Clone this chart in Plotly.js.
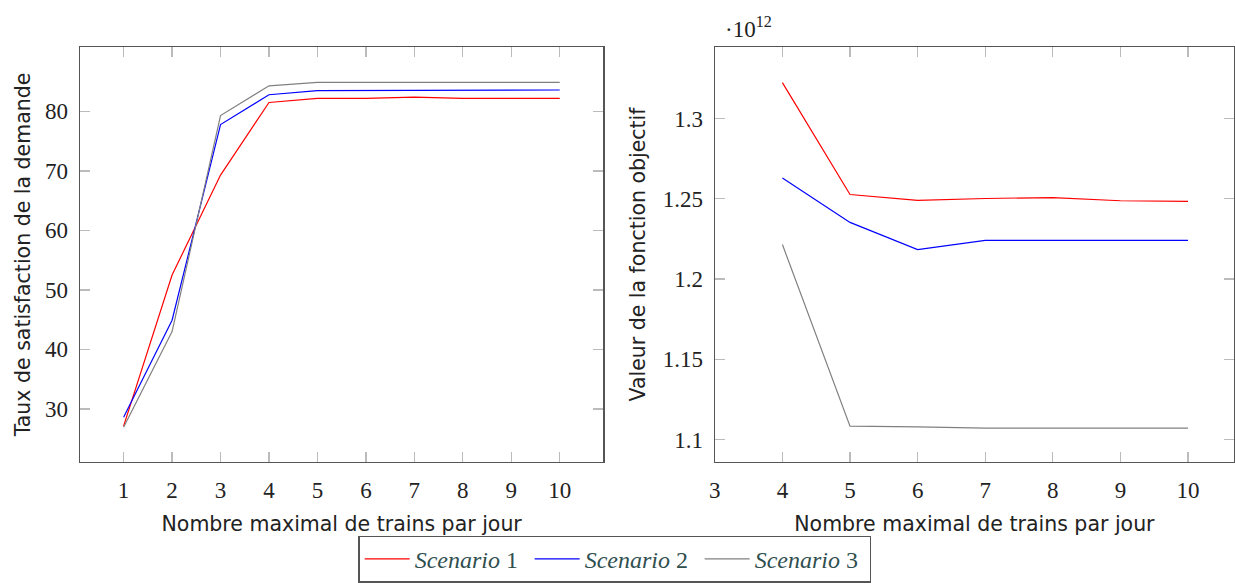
<!DOCTYPE html>
<html>
<head>
<meta charset="utf-8">
<script src="https://cdn.plot.ly/plotly-3.0.1.min.js"></script>
<style>html,body{margin:0;padding:0;background:#fff;}#chart{width:1235px;height:583px;}</style>
</head>
<body>
<div id="chart"></div>
<script>
// Left panel: demand satisfaction rate vs max trains per day
const trainsLeft = [1, 2, 3, 4, 5, 6, 7, 8, 9, 10];
const satisfaction1 = [27.1, 52.5, 69.3, 81.5, 82.2, 82.2, 82.4, 82.2, 82.2, 82.2];
const satisfaction2 = [28.6, 44.9, 77.8, 82.8, 83.5, 83.5, 83.6, 83.6, 83.6, 83.6];
const satisfaction3 = [26.9, 43.0, 79.3, 84.3, 84.9, 84.9, 84.9, 84.9, 84.9, 84.9];

// Right panel: objective function value (units of 10^12) vs max trains per day
const trainsRight = [4, 5, 6, 7, 8, 9, 10];
const objective1 = [1.3224, 1.2527, 1.2490, 1.2502, 1.2508, 1.2488, 1.2484];
const objective2 = [1.2629, 1.2353, 1.2184, 1.2241, 1.2241, 1.2241, 1.2241];
const objective3 = [1.2215, 1.1083, 1.1079, 1.1071, 1.1071, 1.1071, 1.1071];

const leftXTicks = [1, 2, 3, 4, 5, 6, 7, 8, 9, 10];
const leftYTicks = [30, 40, 50, 60, 70, 80];
const rightXTicks = [3, 4, 5, 6, 7, 8, 9, 10];
const rightYTicks = [1.1, 1.15, 1.2, 1.25, 1.3];
const rightYLabels = ['1.1', '1.15', '1.2', '1.25', '1.3'];

const seriesNames = ['<i>Scenario</i> 1', '<i>Scenario</i> 2', '<i>Scenario</i> 3'];
const seriesColors = ['#ff0000', '#0000ff', '#808080'];

const leftSeries = [satisfaction1, satisfaction2, satisfaction3];
const rightSeries = [objective1, objective2, objective3];

const traces = [];
leftSeries.forEach((ys, i) => {
  traces.push({
    x: trainsLeft, y: ys, xaxis: 'x', yaxis: 'y', type: 'scatter', mode: 'lines',
    name: seriesNames[i], legendgroup: 'g' + i, showlegend: true,
    line: {color: seriesColors[i], width: 1.2}
  });
});
rightSeries.forEach((ys, i) => {
  traces.push({
    x: trainsRight, y: ys, xaxis: 'x2', yaxis: 'y2', type: 'scatter', mode: 'lines',
    name: seriesNames[i], legendgroup: 'g' + i, showlegend: false,
    line: {color: seriesColors[i], width: 1.2}
  });
});

const tickFont = {family: 'Liberation Serif, serif', size: 23, color: '#222'};
const titleFont = {family: 'DejaVu Sans, sans-serif', size: 20.5, color: '#222'};
const axisCommon = {
  showline: true, linecolor: '#555', linewidth: 1.3, mirror: 'ticks',
  ticks: 'inside', ticklen: 10, tickcolor: '#bbbbbb', tickwidth: 1.3,
  showgrid: false, zeroline: false, tickfont: tickFont, fixedrange: true
};

const layout = {
  width: 1235, height: 583,
  margin: {l: 80, r: 1, t: 47, b: 111, pad: 0},
  paper_bgcolor: '#ffffff', plot_bgcolor: '#ffffff',
  showlegend: true,
  xaxis: Object.assign({}, axisCommon, {
    domain: [0, 0.4535], range: [0.1, 10.9], tickvals: leftXTicks, ticklabelstandoff: 7,
    title: {text: 'Nombre maximal de trains par jour', font: titleFont, standoff: 14}
  }),
  yaxis: Object.assign({}, axisCommon, {
    domain: [0, 1], range: [21.07, 90.83], tickvals: leftYTicks, ticklabelstandoff: 6,
    title: {text: 'Taux de satisfaction de la demande', font: titleFont, standoff: 9}
  }),
  xaxis2: Object.assign({}, axisCommon, {
    domain: [0.5501, 1], range: [3, 10.68], tickvals: rightXTicks, ticklabelstandoff: 7, anchor: 'y2',
    title: {text: 'Nombre maximal de trains par jour', font: titleFont, standoff: 14}
  }),
  yaxis2: Object.assign({}, axisCommon, {
    domain: [0, 1], range: [1.086, 1.3446], tickvals: rightYTicks, ticktext: rightYLabels,
    ticklabelstandoff: 6, anchor: 'x2',
    title: {text: 'Valeur de la fonction objectif', font: titleFont, standoff: 11}
  }),
  annotations: [{
    xref: 'paper', yref: 'paper', x: 0.5572, y: 1.047, xanchor: 'left', yanchor: 'middle',
    text: '·10<sup>12</sup>', showarrow: false,
    font: {family: 'Liberation Serif, serif', size: 23, color: '#222'}
  }],
  legend: {
    orientation: 'h', x: 0.2412, y: -0.1772, xanchor: 'left', yanchor: 'top',
    bordercolor: '#555', borderwidth: 1.3, bgcolor: '#ffffff',
    font: {family: 'Liberation Serif, serif', size: 24, color: '#2f4f4f'},
    itemwidth: 45, entrywidth: 110, entrywidthmode: 'pixels', traceorder: 'normal'
  }
};

Plotly.newPlot('chart', traces, layout, {displayModeBar: false, staticPlot: true});
</script>
</body>
</html>
